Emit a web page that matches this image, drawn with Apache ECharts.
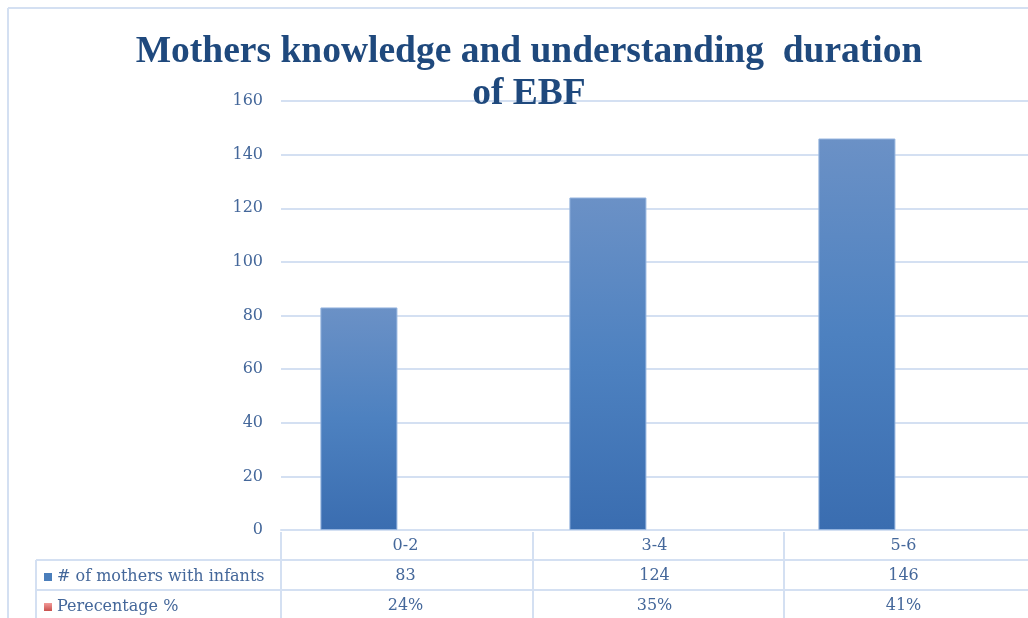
<!DOCTYPE html>
<html>
<head>
<meta charset="utf-8">
<script src="https://cdn.jsdelivr.net/npm/echarts@6/dist/echarts.min.js"></script>
<style>
  html, body { margin: 0; padding: 0; background: #fff; }
  #chart { width: 1028px; height: 618px; }
</style>
</head>
<body>
<div id="chart"></div>
<script>
// data
const categories = ["0-2", "3-4", "5-6"];
const mothers = [83, 124, 146];
const percentage = [24, 35, 41];
const seriesNames = ["# of mothers with infants", "Perecentage %"];

const textColor = "#44679a";
const lineColor = "#d4e0f2";
const serif = "DejaVu Serif";

const chart = echarts.init(document.getElementById("chart"));

const tableLines = [
  // outer border
  [8, 8, 1028, 8], [8, 8, 8, 618],
  // table rows
  [36, 560, 1028, 560], [36, 590, 1028, 590],
  // table columns
  [36, 560, 36, 618], [281, 532, 281, 618], [533, 532, 533, 618], [784, 532, 784, 618]
];

const labelStyle = { fontFamily: serif, fontSize: 16, color: textColor };

const blueFill = new echarts.graphic.LinearGradient(0, 0, 0, 1, [
  { offset: 0, color: "#6b91c6" },
  { offset: 0.5, color: "#4d81c0" },
  { offset: 1, color: "#3a6db0" }
]);
const redFill = new echarts.graphic.LinearGradient(0, 0, 0, 1, [
  { offset: 0, color: "#f29a98" },
  { offset: 1, color: "#c9504d" }
]);

chart.setOption({
  animation: false,
  title: {
    text: "Mothers knowledge and understanding  duration\nof EBF",
    left: 524,
    top: 26,
    textAlign: "center",
    textStyle: {
      fontFamily: "Liberation Serif",
      fontWeight: "bold",
      fontSize: 37.5,
      lineHeight: 42,
      color: "#1f497d"
    }
  },
  legend: {
    orient: "vertical",
    left: 44,
    top: 568,
    padding: 0,
    itemWidth: 8,
    itemHeight: 8,
    itemGap: 12,
    icon: "rect",
    selectedMode: false,
    itemStyle: { borderWidth: 0 },
    textStyle: Object.assign({ lineHeight: 18 }, labelStyle),
    data: [
      { name: seriesNames[0], itemStyle: { color: "#4a7ebb", borderWidth: 0 } },
      { name: seriesNames[1], itemStyle: { color: redFill, opacity: 1, borderWidth: 0 } }
    ]
  },
  grid: { left: 281, top: 101, height: 429, width: 753 },
  xAxis: [
    {
      type: "category",
      data: categories,
      position: "bottom",
      axisLine: { lineStyle: { color: lineColor, width: 2 } },
      axisTick: { show: false },
      axisLabel: Object.assign({ margin: 8 }, labelStyle)
    },
    {
      type: "category",
      data: mothers.map(String),
      position: "bottom",
      offset: 30,
      axisLine: { show: false },
      axisTick: { show: false },
      axisLabel: Object.assign({ margin: 8 }, labelStyle)
    },
    {
      type: "category",
      data: percentage.map(v => v + "%"),
      position: "bottom",
      offset: 60,
      axisLine: { show: false },
      axisTick: { show: false },
      axisLabel: Object.assign({ margin: 8 }, labelStyle)
    }
  ],
  yAxis: {
    type: "value",
    min: 0,
    max: 160,
    interval: 20,
    axisLine: { show: false },
    axisTick: { show: false },
    axisLabel: Object.assign({ margin: 18 }, labelStyle),
    splitLine: { lineStyle: { color: lineColor, width: 2 } }
  },
  series: [
    {
      name: seriesNames[0],
      type: "bar",
      xAxisIndex: 0,
      data: mothers,
      barWidth: 77,
      barGap: "21%",
      itemStyle: { color: blueFill, borderColor: "#93b3de", borderWidth: 1 }
    },
    {
      // percentages plotted as fractions, too small to show on this scale
      name: seriesNames[1],
      type: "bar",
      xAxisIndex: 0,
      data: percentage.map(v => v / 100),
      barWidth: 77,
      itemStyle: { color: redFill, opacity: 0 }
    }
  ],
  graphic: tableLines.map(l => ({
    type: "line",
    silent: true,
    shape: { x1: l[0], y1: l[1], x2: l[2], y2: l[3] },
    style: { stroke: lineColor, lineWidth: 2 }
  }))
});
</script>
</body>
</html>
